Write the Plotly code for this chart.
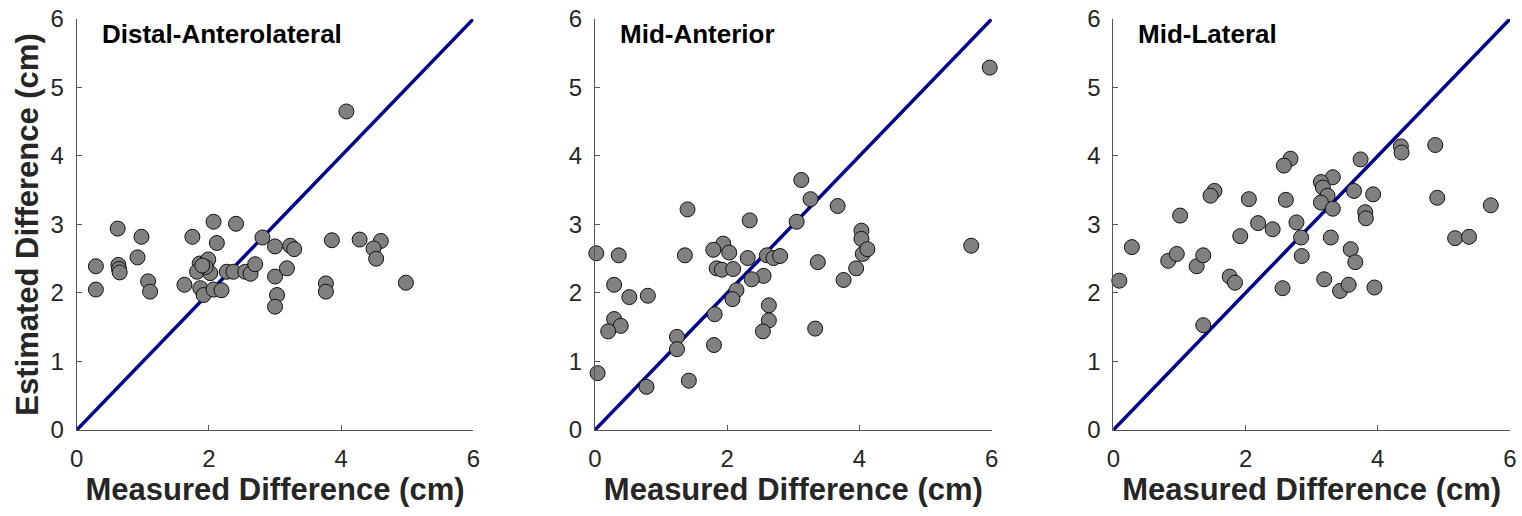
import plotly.graph_objects as go

# ---- data (cm) ----
titles = ["Distal-Anterolateral", "Mid-Anterior", "Mid-Lateral"]
tick_vals = [0, 2, 4, 6]
ytick_vals = [0, 1, 2, 3, 4, 5, 6]

dal_x = [4.08, 0.62, 0.98, 1.75, 2.07, 2.41, 2.81, 2.12, 3.86, 4.28, 4.60, 4.49, 3.00, 3.23, 3.29,
         4.53, 4.98, 0.29, 0.29, 0.63, 0.64, 0.65, 0.92, 1.08, 1.11, 1.63, 1.86, 1.97, 1.99, 1.82,
         2.02, 1.87, 1.92, 2.07, 2.19, 2.27, 2.37, 2.55, 2.63, 2.70, 3.00, 3.18, 3.03, 3.00, 3.77,
         3.77, 1.95, 1.90]
dal_y = [4.65, 2.94, 2.82, 2.82, 3.04, 3.01, 2.81, 2.73, 2.77, 2.78, 2.76, 2.65, 2.68, 2.69, 2.64,
         2.50, 2.15, 2.39, 2.05, 2.41, 2.35, 2.30, 2.52, 2.17, 2.02, 2.12, 2.43, 2.46, 2.49, 2.31,
         2.29, 2.07, 1.97, 2.05, 2.04, 2.31, 2.31, 2.31, 2.28, 2.42, 2.24, 2.36, 1.97, 1.80, 2.14,
         2.02, 2.38, 2.40]

ma_x = [5.97, 3.12, 3.26, 3.67, 1.40, 2.34, 3.05, 4.03, 4.03, 5.69, 1.94, 0.02, 0.36, 1.36, 1.79,
        2.03, 2.31, 2.60, 2.70, 2.80, 1.84, 1.92, 2.09, 2.55, 2.37, 2.14, 2.08, 3.37, 3.76, 3.95,
        4.05, 4.12, 0.29, 0.52, 0.80, 0.29, 0.39, 0.20, 1.81, 2.63, 2.63, 2.54, 3.33, 1.24, 1.24,
        1.80, 0.04, 0.78, 1.42]
ma_y = [5.29, 3.65, 3.37, 3.27, 3.22, 3.06, 3.04, 2.91, 2.79, 2.69, 2.72, 2.58, 2.55, 2.55, 2.63,
        2.59, 2.51, 2.55, 2.51, 2.54, 2.36, 2.34, 2.35, 2.25, 2.20, 2.04, 1.91, 2.45, 2.19, 2.36,
        2.57, 2.64, 2.12, 1.94, 1.96, 1.62, 1.52, 1.44, 1.69, 1.82, 1.60, 1.44, 1.48, 1.36, 1.18,
        1.24, 0.83, 0.63, 0.72]

ml_x = [4.35, 4.36, 4.87, 3.74, 2.68, 2.58, 3.32, 3.14, 3.17, 3.64, 3.93, 1.53, 1.47, 2.05, 2.61,
        3.24, 3.14, 3.32, 4.90, 5.71, 1.01, 3.81, 3.82, 2.77, 2.19, 2.41, 1.92, 2.84, 3.29, 5.17,
        5.38, 0.28, 0.83, 0.96, 1.26, 1.36, 2.85, 3.59, 3.66, 3.19, 3.43, 3.56, 3.95, 2.56, 0.09,
        1.76, 1.84, 1.36]
ml_y = [4.14, 4.05, 4.16, 3.95, 3.96, 3.86, 3.69, 3.62, 3.54, 3.49, 3.44, 3.49, 3.42, 3.37, 3.36,
        3.42, 3.32, 3.23, 3.39, 3.28, 3.13, 3.18, 3.09, 3.03, 3.02, 2.93, 2.83, 2.81, 2.81, 2.80,
        2.82, 2.67, 2.47, 2.57, 2.39, 2.55, 2.54, 2.64, 2.45, 2.20, 2.03, 2.12, 2.08, 2.07, 2.18,
        2.24, 2.15, 1.53]

identity = [0, 6]

panels = [(dal_x, dal_y), (ma_x, ma_y), (ml_x, ml_y)]
domains = [(0.0504, 0.3110), (0.3909, 0.6516), (0.7315, 0.9921)]
ydom = (0.1667, 0.9632)

FONT = "Liberation Sans, Arial, Helvetica, sans-serif"
fig = go.Figure()

for i, ((px, py), dom) in enumerate(zip(panels, domains)):
    sfx = "" if i == 0 else str(i + 1)
    fig.add_trace(go.Scatter(x=identity, y=identity, mode="lines",
                             line=dict(color="#00008f", width=3.5),
                             xaxis="x" + sfx, yaxis="y" + sfx, showlegend=False,
                             cliponaxis=False, hoverinfo="skip"))
    fig.add_trace(go.Scatter(x=px, y=py, mode="markers",
                             marker=dict(size=15, color="#808080",
                                         line=dict(color="#111111", width=1)),
                             xaxis="x" + sfx, yaxis="y" + sfx, showlegend=False,
                             cliponaxis=False))
    axis_common = dict(showgrid=False, zeroline=False, showline=True, linecolor="#555555",
                       linewidth=1, ticks="inside", ticklen=5, tickcolor="#555555",
                       tickfont=dict(family=FONT, size=24, color="#262626"),
                       automargin=False)
    fig.update_layout(**{
        "xaxis" + sfx: dict(domain=list(dom), range=[0, 6], tickvals=tick_vals,
                           anchor="y" + sfx, ticklabelstandoff=7,
                           title=dict(text="<b>Measured Difference (cm)</b>",
                                      font=dict(family=FONT, size=31, color="#262626"),
                                      standoff=0),
                           **axis_common),
        "yaxis" + sfx: dict(domain=list(ydom), range=[0, 6], tickvals=ytick_vals,
                           anchor="x" + sfx, ticklabelstandoff=7,
                           title=dict(text="<b>Estimated Difference (cm)</b>" if i == 0 else "",
                                      font=dict(family=FONT, size=31, color="#262626"),
                                      standoff=2),
                           **axis_common),
    })
    fig.add_annotation(text="<b>" + titles[i] + "</b>", x=0.35, y=5.78,
                       xref="x" + sfx, yref="y" + sfx, xanchor="left", yanchor="middle",
                       showarrow=False, font=dict(family=FONT, size=26, color="black"))

fig.update_layout(width=1522, height=516, margin=dict(l=0, r=0, t=0, b=0),
                  paper_bgcolor="white", plot_bgcolor="white")

fig.write_html("out.html")
